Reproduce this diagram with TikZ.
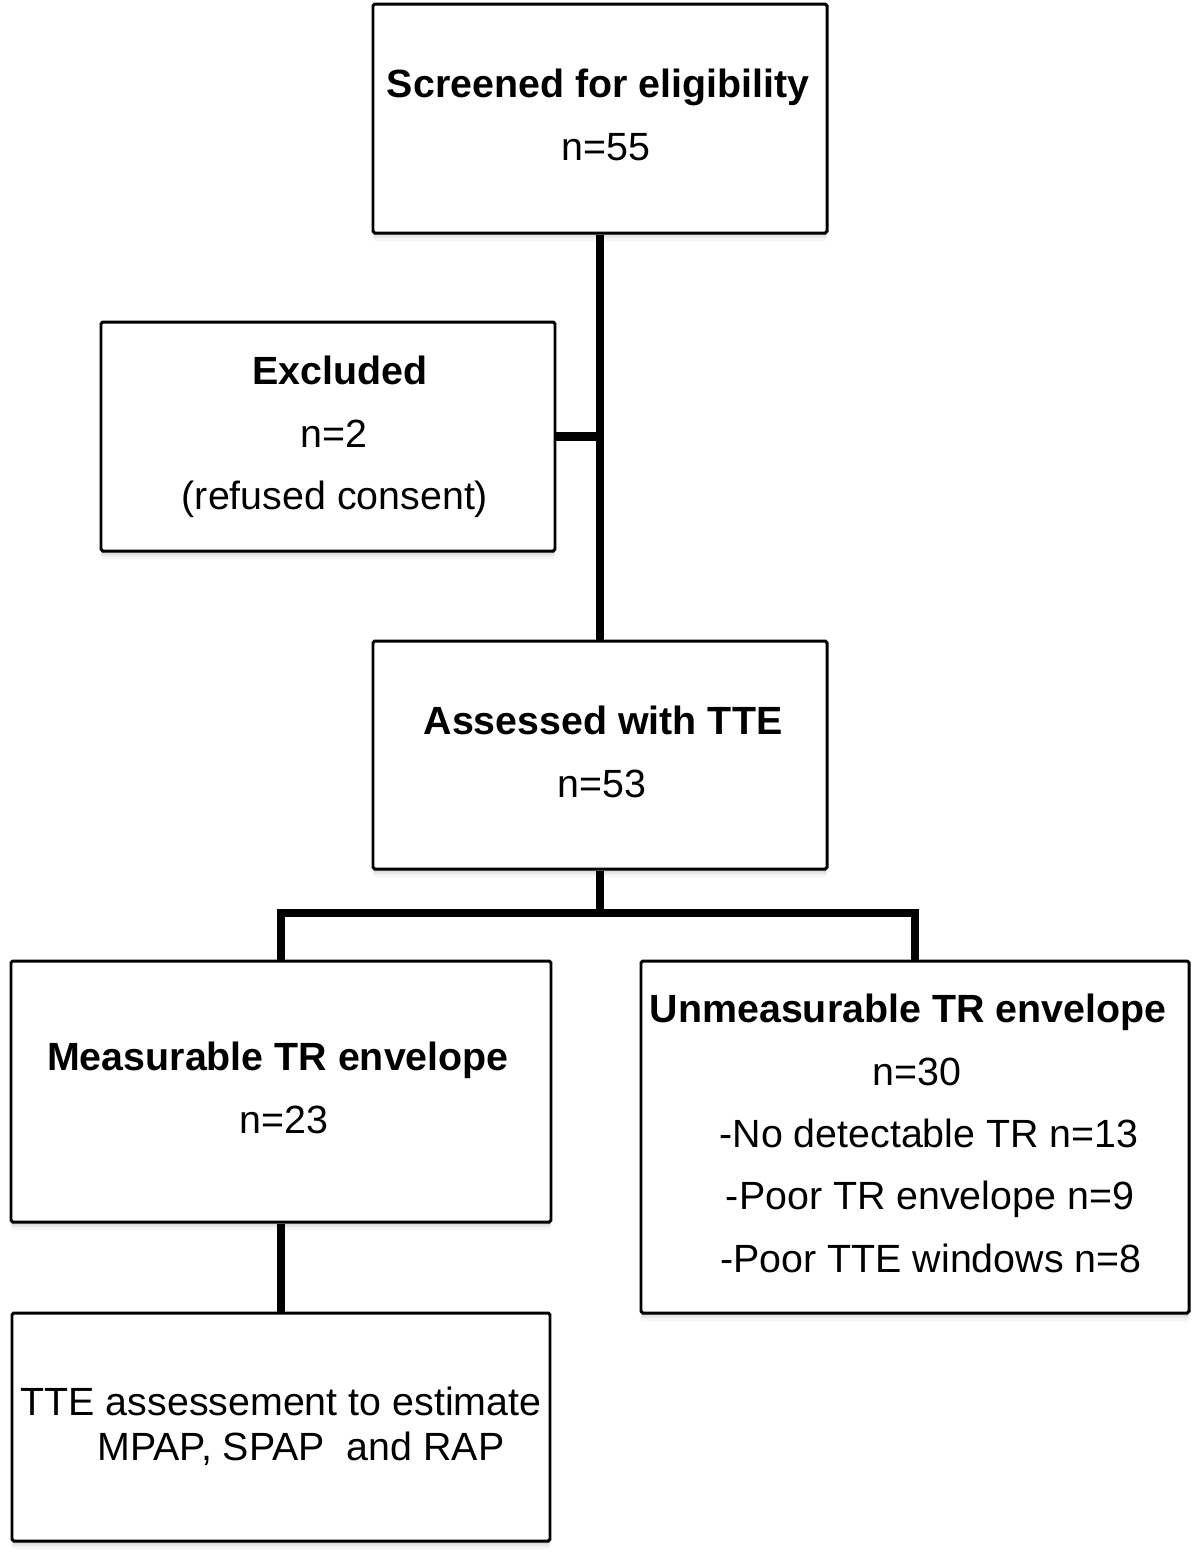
\documentclass[tikz,border=0pt]{standalone}
\usepackage{fontspec}
\setmainfont{Liberation Sans}
\usetikzlibrary{shadows}
\begin{document}
\begin{tikzpicture}[
box/.style={draw, rectangle, fill=white, line width=1.7pt, inner sep=0pt, rounded corners=1pt,
  drop shadow={shadow xshift=0pt, shadow yshift=-0.16cm, opacity=.07},
  drop shadow={shadow xshift=0pt, shadow yshift=-0.10cm, opacity=.12},
  drop shadow={shadow xshift=0pt, shadow yshift=-0.05cm, opacity=.18}},
hd/.style={anchor=base, inner sep=0pt, font=\fontsize{22.4}{26}\selectfont\bfseries},
txt/.style={anchor=base, inner sep=0pt, font=\fontsize{22.4}{26}\selectfont},
link/.style={line width=5pt}]
\useasboundingbox (0,0) rectangle (24,-31.22);

% boxes
\node (scr) at (12,-2.37) [box, minimum width=9.08cm, minimum height=4.58cm] {};
\node (exc) at (6.56,-8.73) [box, minimum width=9.08cm, minimum height=4.58cm] {};
\node (ass) at (12,-15.10) [box, minimum width=9.08cm, minimum height=4.56cm] {};
\node (meas) at (5.62,-21.83) [box, minimum width=10.8cm, minimum height=5.22cm] {};
\node (unm) at (18.30,-22.74) [box, minimum width=10.96cm, minimum height=7.04cm] {};
\node (tte) at (5.62,-28.54) [box, minimum width=10.76cm, minimum height=4.56cm] {};
\coordinate (split) at (12,-18.26);

% texts
\node (scr1) at (11.96,-1.94) [hd] {Screened for eligibility};
\node (scr2) at (12.12,-3.20) [txt] {n=55};
\node (exc1) at (6.80,-7.68) [hd] {Excluded};
\node (exc2) at (6.68,-8.94) [txt] {n=2};
\node (exc3) at (6.70,-10.18) [txt] {(refused consent)};
\node (ass1) at (12.06,-14.68) [hd] {Assessed with TTE};
\node (ass2) at (12.04,-15.94) [txt] {n=53};
\node (meas1) at (5.56,-21.40) [hd] {Measurable TR envelope};
\node (meas2) at (5.68,-22.66) [txt] {n=23};
\node (unm1) at (18.16,-20.44) [hd] {Unmeasurable TR envelope};
\node (unm2) at (18.34,-21.70) [txt] {n=30};
\node (unm3) at (18.58,-22.94) [txt] {-No detectable TR n=13};
\node (unm4) at (18.60,-24.18) [txt] {-Poor TR envelope n=9};
\node (unm5) at (18.62,-25.44) [txt] {-Poor TTE windows n=8};
\node (tte1) at (5.62,-28.30) [txt] {TTE assessement to estimate};
\node (tte2) at (6.02,-29.20) [txt] {MPAP, SPAP\ \ and RAP};

\draw[link]
(scr.south) to (ass.north)
(exc.east) to (exc.east -| scr.south)
(ass.south) to (split)
(meas.south) to (tte.north);
\draw[link] (meas.north) |- (split) -| (unm.north);
\end{tikzpicture}
\end{document}
